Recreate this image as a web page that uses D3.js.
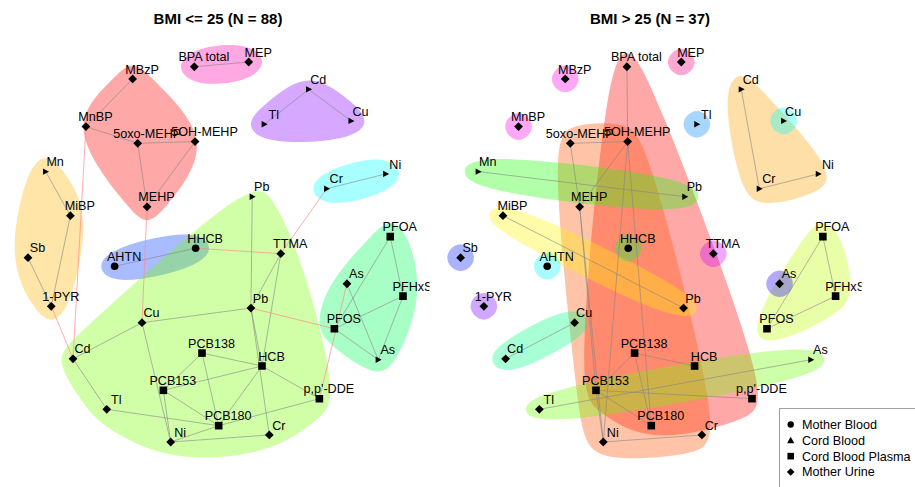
<!DOCTYPE html>
<html>
<head>
<meta charset="utf-8">
<script src="https://cdn.jsdelivr.net/npm/d3@7"></script>
<style>
  body { margin: 0; background: #fff; }
  svg { display: block; }
  text { font-family: "Liberation Sans", Arial, Helvetica, sans-serif; }
</style>
</head>
<body>
<svg id="chart" width="915" height="487"></svg>
<script>
// ---- Exposure variables (network vertices) ----
const nodeIds = ["MBzP","MnBP","5oxo-MEHP","5OH-MEHP","MEHP","BPA total","MEP","Mn_cb","MiBP","Sb",
  "1-PYR","Cd_cb","Tl_cb","Cu_cb","Ni_cb","Cr_cb","Pb_cb","AHTN","HHCB","TTMA",
  "Pb_mu","Cu_mu","Cd_mu","Tl_mu","Ni_mu","Cr_mu","PCB138","PCB153","PCB180","HCB",
  "p,p'-DDE","PFOA","PFHxS","PFOS","As_mu","As_cb"];
const nodeLabels = ["MBzP","MnBP","5oxo-MEHP","5OH-MEHP","MEHP","BPA total","MEP","Mn","MiBP","Sb",
  "1-PYR","Cd","Tl","Cu","Ni","Cr","Pb","AHTN","HHCB","TTMA",
  "Pb","Cu","Cd","Tl","Ni","Cr","PCB138","PCB153","PCB180","HCB",
  "p,p'-DDE","PFOA","PFHxS","PFOS","As","As"];
// sample matrix: 0 Mother Blood, 1 Cord Blood, 2 Cord Blood Plasma, 3 Mother Urine
const nodeMatrix = [3,3,3,3,3,3,3,1,3,3, 3,1,1,1,1,1,1,0,0,3, 3,3,3,3,3,3,2,2,2,2, 2,2,2,2,3,1];
// shared graph layout (normalised to [-1, 1])
const layoutX = [-0.442,-0.691,-0.415,-0.109,-0.365,-0.113,0.177,-0.906,-0.774,-1.000,
  -0.876,0.497,0.260,0.723,0.908,0.593,0.196,-0.538,-0.106,0.348,
  0.189,-0.392,-0.760,-0.580,-0.239,0.287,-0.072,-0.278,0.017,0.248,
  0.554,0.932,1.000,0.634,0.701,0.868];
const layoutY = [0.911,0.660,0.572,0.581,0.238,0.975,1.000,0.423,0.191,-0.030,
  -0.286,0.856,0.672,0.690,0.411,0.333,0.291,-0.075,0.020,-0.009,
  -0.295,-0.372,-0.562,-0.828,-1.000,-0.963,-0.532,-0.728,-0.914,-0.600,
  -0.772,0.081,-0.232,-0.404,-0.167,-0.567];
const matrixTypes = ["Mother Blood","Cord Blood","Cord Blood Plasma","Mother Urine"];
const panelTitles = ["BMI <= 25 (N = 88)","BMI > 25 (N = 37)"];

// ---- BMI <= 25 ----
const groupsLow = [
  ["MBzP","MnBP","5oxo-MEHP","5OH-MEHP","MEHP"],
  ["BPA total","MEP"],
  ["Cd_cb","Tl_cb","Cu_cb"],
  ["Mn_cb","MiBP","Sb","1-PYR"],
  ["Cr_cb","Ni_cb"],
  ["AHTN","HHCB"],
  ["Pb_cb","TTMA","Pb_mu","Cu_mu","Cd_mu","Tl_mu","Ni_mu","Cr_mu","PCB138","PCB153","PCB180","HCB","p,p'-DDE"],
  ["PFOA","PFHxS","PFOS","As_mu","As_cb"]
];
const edgesLow = [
  ["MBzP","MnBP"],["MnBP","5oxo-MEHP"],["5oxo-MEHP","5OH-MEHP"],["5oxo-MEHP","MEHP"],["5OH-MEHP","MEHP"],
  ["BPA total","MEP"],["Mn_cb","MiBP"],["MiBP","1-PYR"],["Sb","1-PYR"],
  ["Tl_cb","Cd_cb"],["Cd_cb","Cu_cb"],["Cr_cb","Ni_cb"],["AHTN","HHCB"],
  ["Pb_cb","Pb_mu"],["Pb_mu","TTMA"],["TTMA","HCB"],["Pb_mu","Cu_mu"],["Pb_mu","HCB"],["Pb_mu","Cr_mu"],
  ["Cu_mu","Cd_mu"],["Cu_mu","Ni_mu"],["Cd_mu","Tl_mu"],["Tl_mu","PCB180"],
  ["PCB138","PCB153"],["PCB138","HCB"],["PCB138","PCB180"],["PCB153","HCB"],["PCB153","PCB180"],["PCB153","Ni_mu"],
  ["HCB","PCB180"],["HCB","p,p'-DDE"],["PCB180","p,p'-DDE"],["PCB180","Ni_mu"],["Ni_mu","Cr_mu"],
  ["PFOA","PFOS"],["PFOA","PFHxS"],["PFHxS","PFOS"],["PFOS","As_cb"],["As_mu","As_cb"],["PFHxS","As_cb"]
];
const crossEdgesLow = [
  ["MnBP","Cd_mu"],["1-PYR","Cd_mu"],["MEHP","Cu_mu"],["HHCB","TTMA"],["Cr_cb","TTMA"],
  ["Pb_mu","PFOS"],["As_mu","p,p'-DDE"]
];

// ---- BMI > 25 ----
const groupsHigh = [
  ["BPA total","5OH-MEHP","HHCB","PCB138","PCB153","PCB180","HCB","p,p'-DDE"],
  ["5oxo-MEHP","5OH-MEHP","MEHP","PCB153","PCB180","Ni_mu","Cr_mu"],
  ["Cd_cb","Cr_cb","Ni_cb"],
  ["MiBP","Pb_mu"],
  ["PFOA","PFHxS","PFOS"],
  ["Tl_mu","As_cb"],
  ["Mn_cb","Pb_cb"],
  ["HHCB"],
  ["Cd_mu","Cu_mu"],
  ["Cu_cb"],
  ["AHTN"],
  ["Tl_cb"],
  ["Sb"],
  ["As_mu"],
  ["1-PYR"],
  ["TTMA"],
  ["MBzP"],
  ["MnBP"],
  ["MEP"]
];
const edgesHigh = [
  ["5oxo-MEHP","5OH-MEHP"],["5oxo-MEHP","MEHP"],["5OH-MEHP","MEHP"],["BPA total","5OH-MEHP"],
  ["5OH-MEHP","Ni_mu"],["5OH-MEHP","PCB180"],["MEHP","Ni_mu"],["MEHP","PCB153"],
  ["Mn_cb","Pb_cb"],["MiBP","Pb_mu"],["Cd_cb","Cr_cb"],["Cr_cb","Ni_cb"],["Cd_mu","Cu_mu"],
  ["Tl_mu","As_cb"],["PCB138","PCB153"],["PCB138","HCB"],["PCB138","PCB180"],
  ["PCB153","PCB180"],["PCB153","p,p'-DDE"],["PCB153","Ni_mu"],["Ni_mu","Cr_mu"],
  ["PFOA","PFOS"],["PFOA","PFHxS"],["PFHxS","PFOS"]
];
const crossEdgesHigh = [];

// community fill hues
const huesLow = [0, 320, 272, 42, 180, 226, 92, 140];
const huesHigh = [0, 19, 38, 57, 76, 95, 114, 133, 152, 180, 182, 208, 232, 248, 268, 288, 305, 305, 330];

// ---- drawing ----
const svg = d3.select("#chart");
const W = 915, H = 487;
const nodes = nodeIds.map((id, i) => ({ id, label: nodeLabels[i], m: nodeMatrix[i], lx: layoutX[i], ly: layoutY[i] }));
const byId = new Map(nodes.map(n => [n.id, n]));

const y = d3.scaleLinear().domain([-1, 1]).range([442, 62]);
const panels = [
  { title: panelTitles[0], x: d3.scaleLinear().domain([-1, 1]).range([28, 403]), clip: [-4, 429.5],
    groups: groupsLow, hues: huesLow, edges: edgesLow, cross: crossEdgesLow, cx: 218 },
  { title: panelTitles[1], x: d3.scaleLinear().domain([-1, 1]).range([460.6, 835.6]), clip: [429.5, 861.6],
    groups: groupsHigh, hues: huesHigh, edges: edgesHigh, cross: crossEdgesHigh, cx: 650 }
];

const E = 20; // community hull expansion
function hullPath(pts) {
  const cloud = [];
  pts.forEach(([px, py]) => cloud.push([px, py], [px - E, py], [px + E, py], [px, py - E], [px, py + E]));
  const h = d3.polygonHull(cloud);
  return d3.line().curve(d3.curveBasisClosed)(h);
}

function symbolPath(m) {
  if (m === 0) return "M3.8,0A3.8,3.8 0 1,1 -3.8,0A3.8,3.8 0 1,1 3.8,0Z";
  if (m === 1) return "M-2.6,-3.2L3.4,0L-2.6,3.2Z";
  if (m === 2) return "M-3.8,-3.8H3.8V3.8H-3.8Z";
  return "M0,-4.4L4.4,0L0,4.4L-4.4,0Z";
}

panels.forEach((p, pi) => {
  const clipId = "clip" + pi;
  svg.append("clipPath").attr("id", clipId)
    .append("rect").attr("x", p.clip[0]).attr("y", 30).attr("width", p.clip[1] - p.clip[0]).attr("height", H - 30);
  const g = svg.append("g").attr("clip-path", `url(#${clipId})`);
  const pos = id => { const n = byId.get(id); return [p.x(n.lx), y(n.ly)]; };

  g.append("g").selectAll("path").data(p.groups).join("path")
    .attr("d", grp => hullPath(grp.map(pos)))
    .attr("fill", (grp, i) => d3.hsl(p.hues[i], 1, 0.5).formatHex())
    .attr("fill-opacity", 0.34)
    .attr("stroke", "none");

  g.append("g").selectAll("line").data(p.edges).join("line")
    .attr("x1", e => pos(e[0])[0]).attr("y1", e => pos(e[0])[1])
    .attr("x2", e => pos(e[1])[0]).attr("y2", e => pos(e[1])[1])
    .attr("stroke", "#858585").attr("stroke-width", 0.6);

  g.append("g").selectAll("line").data(p.cross).join("line")
    .attr("x1", e => pos(e[0])[0]).attr("y1", e => pos(e[0])[1])
    .attr("x2", e => pos(e[1])[0]).attr("y2", e => pos(e[1])[1])
    .attr("stroke", "#ff8a8a").attr("stroke-width", 0.7);

  g.append("g").selectAll("path").data(nodes).join("path")
    .attr("transform", n => `translate(${p.x(n.lx)},${y(n.ly)})`)
    .attr("d", n => symbolPath(n.m))
    .attr("fill", "#000");

  g.append("g").selectAll("text").data(nodes).join("text")
    .attr("x", n => p.x(n.lx) + 9.5)
    .attr("y", n => y(n.ly) - 5.3)
    .attr("text-anchor", "middle")
    .attr("font-size", 12.6)
    .attr("fill", "#000")
    .text(n => n.label);

  svg.append("text").attr("x", p.cx).attr("y", 24)
    .attr("text-anchor", "middle").attr("font-size", 15).attr("font-weight", "bold")
    .text(p.title);
});

// ---- legend ----
const lg = svg.append("g");
lg.append("rect").attr("x", 779.5).attr("y", 408.5).attr("width", 160).attr("height", 100)
  .attr("fill", "#fff").attr("stroke", "#a0a0a0").attr("stroke-width", 1);
const legendSym = [
  "M3.2,0A3.2,3.2 0 1,1 -3.2,0A3.2,3.2 0 1,1 3.2,0Z",
  "M0,-3.6L3.6,2.8L-3.6,2.8Z",
  "M-3.3,-3.3H3.3V3.3H-3.3Z",
  "M0,-3.8L3.8,0L0,3.8L-3.8,0Z"
];
const rowY = d3.scalePoint().domain(matrixTypes).range([424.5, 472]);
lg.selectAll("path.sym").data(matrixTypes).join("path").attr("class", "sym")
  .attr("transform", t => `translate(790.7,${rowY(t)})`)
  .attr("d", (t, i) => legendSym[i]).attr("fill", "#000");
lg.selectAll("text").data(matrixTypes).join("text")
  .attr("x", 802).attr("y", t => rowY(t) + 4.4)
  .attr("font-size", 12.6).text(t => t);
</script>
</body>
</html>
